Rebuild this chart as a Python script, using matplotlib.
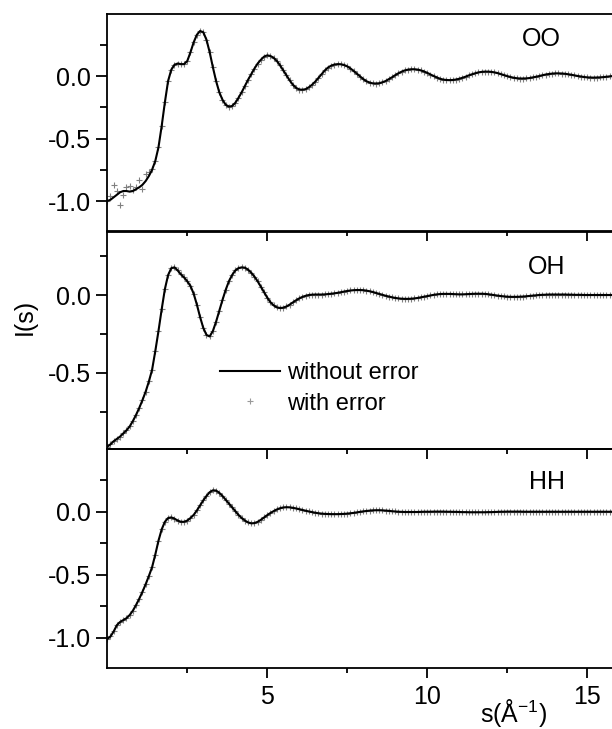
import matplotlib
matplotlib.use("Agg")
import matplotlib.pyplot as plt
import numpy as np
from matplotlib.lines import Line2D
from matplotlib.ticker import MultipleLocator, FixedLocator, FormatStrFormatter

plt.rcParams['font.family'] = ['Liberation Sans', 'DejaVu Sans']
plt.rcParams['axes.unicode_minus'] = False
plt.rcParams['mathtext.fontset'] = 'custom'
plt.rcParams['mathtext.rm'] = 'Liberation Sans'
plt.rcParams['mathtext.default'] = 'regular'

# s grid, 0.0 .. 15.8 step 0.1
s = np.round(np.arange(159) * 0.1, 1)

# I(s), one row per unit of s
oo_line = [
    -1.00, -0.99, -0.97, -0.95, -0.93, -0.92, -0.92, -0.925, -0.92, -0.905,
    -0.89, -0.87, -0.84, -0.80, -0.75, -0.68, -0.57, -0.40, -0.21, -0.04,
    0.05, 0.09, 0.10, 0.095, 0.095, 0.12, 0.19, 0.27, 0.33, 0.36,
    0.35, 0.29, 0.19, 0.07, -0.04, -0.13, -0.19, -0.23, -0.245, -0.24,
    -0.215, -0.175, -0.13, -0.08, -0.03, 0.015, 0.06, 0.10, 0.13, 0.155,
    0.165, 0.16, 0.145, 0.12, 0.085, 0.045, 0.005, -0.035, -0.07, -0.095,
    -0.108, -0.11, -0.105, -0.09, -0.07, -0.045, -0.015, 0.015, 0.045, 0.068,
    0.083, 0.092, 0.095, 0.094, 0.088, 0.077, 0.06, 0.04, 0.018, -0.005,
    -0.025, -0.042, -0.053, -0.059, -0.06, -0.058, -0.05, -0.04, -0.025, -0.01,
    0.007, 0.022, 0.035, 0.045, 0.051, 0.054, 0.054, 0.051, 0.045, 0.036,
    0.025, 0.012, 0.0, -0.012, -0.022, -0.029, -0.032, -0.033, -0.032, -0.028,
    -0.022, -0.014, -0.005, 0.005, 0.014, 0.022, 0.029, 0.033, 0.035, 0.035,
    0.033, 0.029, 0.023, 0.015, 0.007, -0.001, -0.008, -0.014, -0.018, -0.02,
    -0.02, -0.019, -0.016, -0.011, -0.006, 0.0, 0.006, 0.012, 0.016, 0.019,
    0.021, 0.021, 0.02, 0.018, 0.014, 0.01, 0.005, 0.0, -0.004, -0.008,
    -0.011, -0.012, -0.013, -0.012, -0.011, -0.009, -0.006, -0.003, 0.0,
]
# the noisy start of the OO "with error" points (s = 0.0 .. 1.4)
oo_err_head = [-1.00, -0.96, -0.87, -0.92, -1.03, -0.95, -0.89, -0.88, -0.91,
               -0.885, -0.83, -0.905, -0.78, -0.77, -0.74]

oh_line = [
    -0.975, -0.96, -0.94, -0.925, -0.91, -0.89, -0.87, -0.845, -0.81, -0.77,
    -0.725, -0.675, -0.62, -0.555, -0.48, -0.36, -0.23, -0.09, 0.04, 0.13,
    0.175, 0.18, 0.16, 0.135, 0.115, 0.09, 0.06, 0.01, -0.06, -0.14,
    -0.21, -0.255, -0.265, -0.23, -0.17, -0.10, -0.03, 0.035, 0.09, 0.13,
    0.16, 0.175, 0.18, 0.178, 0.165, 0.145, 0.12, 0.09, 0.055, 0.02,
    -0.015, -0.045, -0.065, -0.078, -0.082, -0.08, -0.072, -0.06, -0.046, -0.032,
    -0.02, -0.01, -0.003, 0.002, 0.004, 0.005, 0.005, 0.005, 0.006, 0.008,
    0.01, 0.013, 0.016, 0.02, 0.024, 0.028, 0.031, 0.033, 0.034, 0.034,
    0.033, 0.03, 0.026, 0.021, 0.015, 0.009, 0.003, -0.003, -0.008, -0.013,
    -0.017, -0.02, -0.022, -0.023, -0.023, -0.022, -0.02, -0.017, -0.013, -0.009,
    -0.005, -0.001, 0.003, 0.006, 0.008, 0.009, 0.009, 0.009, 0.008, 0.007,
    0.006, 0.006, 0.007, 0.008, 0.009, 0.01, 0.01, 0.01, 0.009, 0.007,
    0.004, 0.001, -0.002, -0.005, -0.007, -0.009, -0.01, -0.01, -0.01, -0.009,
    -0.008, -0.006, -0.004, -0.002, 0.0, 0.002, 0.003, 0.004, 0.005, 0.005,
    0.005, 0.005, 0.005, 0.005, 0.004, 0.004, 0.003, 0.003, 0.003, 0.002,
    0.002, 0.002, 0.002, 0.002, 0.002, 0.002, 0.002, 0.002, 0.002,
]

hh_line = [
    -1.01, -0.99, -0.95, -0.90, -0.875, -0.86, -0.845, -0.82, -0.785, -0.74,
    -0.69, -0.635, -0.575, -0.51, -0.44, -0.34, -0.23, -0.14, -0.08, -0.05,
    -0.045, -0.055, -0.07, -0.08, -0.08, -0.07, -0.05, -0.025, 0.01, 0.05,
    0.09, 0.125, 0.155, 0.17, 0.168, 0.15, 0.125, 0.095, 0.065, 0.035,
    0.005, -0.025, -0.05, -0.07, -0.085, -0.092, -0.09, -0.08, -0.064, -0.045,
    -0.027, -0.01, 0.005, 0.018, 0.028, 0.034, 0.036, 0.035, 0.031, 0.026,
    0.02, 0.014, 0.008, 0.002, -0.003, -0.008, -0.012, -0.015, -0.017, -0.018,
    -0.019, -0.019, -0.019, -0.018, -0.017, -0.015, -0.012, -0.009, -0.005, -0.001,
    0.003, 0.006, 0.009, 0.011, 0.012, 0.012, 0.011, 0.009, 0.007, 0.004,
    0.002, 0.0, -0.001, -0.002, -0.002, -0.002, -0.002, -0.002, -0.001, 0.0,
    0.0, 0.0, 0.001, 0.001, 0.001, 0.001, 0.0, 0.0, -0.001, -0.001,
    -0.002, -0.003, -0.003, -0.004, -0.004, -0.004, -0.004, -0.004, -0.004, -0.003,
    -0.003, -0.002, -0.001, 0.0, 0.0, 0.001, 0.001, 0.001, 0.001, 0.001,
    0.0, 0.0, 0.0, 0.0, 0.0, 0.0, 0.0, 0.0, 0.0, 0.0,
    0.0, 0.0, 0.0, 0.0, 0.0, 0.0, 0.0, 0.0, 0.0, 0.0,
    0.0, 0.0, 0.0, 0.0, 0.0, 0.0, 0.0, 0.0, 0.0,
]

oo_err = oo_err_head + oo_line[len(oo_err_head):]

x_major = [5, 10, 15]
x_minor = [2.5, 7.5, 12.5]

panels = [
    ('OO', oo_line, oo_err, (-1.24, 0.496), (0.847, 0.885)),
    ('OH', oh_line, oh_line, (-0.99, 0.408), (0.859, 0.840)),
    ('HH', hh_line, hh_line, (-1.24, 0.498), (0.859, 0.847)),
]
# axes boxes in figure fraction [left, bottom, width, height]
boxes = [
    [0.1753, 0.6831, 0.8366, 0.2977],
    [0.1753, 0.3841, 0.8366, 0.2977],
    [0.1753, 0.0837, 0.8366, 0.3004],
]

fig = plt.figure(figsize=(6.12, 7.29), dpi=100)
axes = []
for (name, line, err, ylim, lab_pos), box in zip(panels, boxes):
    ax = fig.add_axes(box)
    ax.patch.set_visible(False)
    ax.plot(s, err, linestyle='none', marker='+', markersize=5, mew=0.8,
            color='#808080', zorder=1)
    ax.plot(s, line, color='black', lw=1.5, zorder=2)
    ax.set_xlim(0, 16)
    ax.set_ylim(*ylim)
    ax.spines['right'].set_visible(False)
    for sp in ax.spines.values():
        sp.set_linewidth(1.3)
    ax.xaxis.set_major_locator(FixedLocator(x_major))
    ax.xaxis.set_minor_locator(FixedLocator(x_minor))
    ax.yaxis.set_major_locator(MultipleLocator(0.5))
    ax.yaxis.set_minor_locator(MultipleLocator(0.25))
    ax.yaxis.set_major_formatter(FormatStrFormatter('%.1f'))
    ax.tick_params(axis='x', which='major', direction='out', length=7, width=1.3,
                   labelsize=18, pad=5, top=False)
    ax.tick_params(axis='x', which='minor', direction='out', length=3.5, width=1.3,
                   top=False)
    ax.tick_params(axis='y', which='major', direction='out', length=8, width=1.3,
                   labelsize=18, pad=4, right=False)
    ax.tick_params(axis='y', which='minor', direction='out', length=5, width=1.3,
                   right=False)
    ax.text(lab_pos[0], lab_pos[1], name, transform=ax.transAxes, fontsize=18,
            ha='center', va='center')
    axes.append(ax)

for ax in axes[:-1]:
    ax.tick_params(axis='x', labelbottom=False)

# legend in the middle panel
handles = [
    Line2D([], [], color='black', lw=1.5, label='without error'),
    Line2D([], [], linestyle='none', marker='+', markersize=5, mew=0.8,
           color='#999999', label='with error'),
]
axes[1].legend(handles=handles, loc='center left', bbox_to_anchor=(0.22, 0.279),
               frameon=False, fontsize=17, handlelength=2.55, handletextpad=0.3,
               labelspacing=0.35, borderpad=0, borderaxespad=0, numpoints=1)

axes[2].text(0.794, -0.205, r's(Å$^{-1}$)', transform=axes[2].transAxes,
             fontsize=18, ha='center', va='center')
fig.text(25 / 612, 1 - 317 / 729, 'I(s)', rotation=90, fontsize=18,
         ha='center', va='center')

fig.savefig('out.png', dpi=100)
